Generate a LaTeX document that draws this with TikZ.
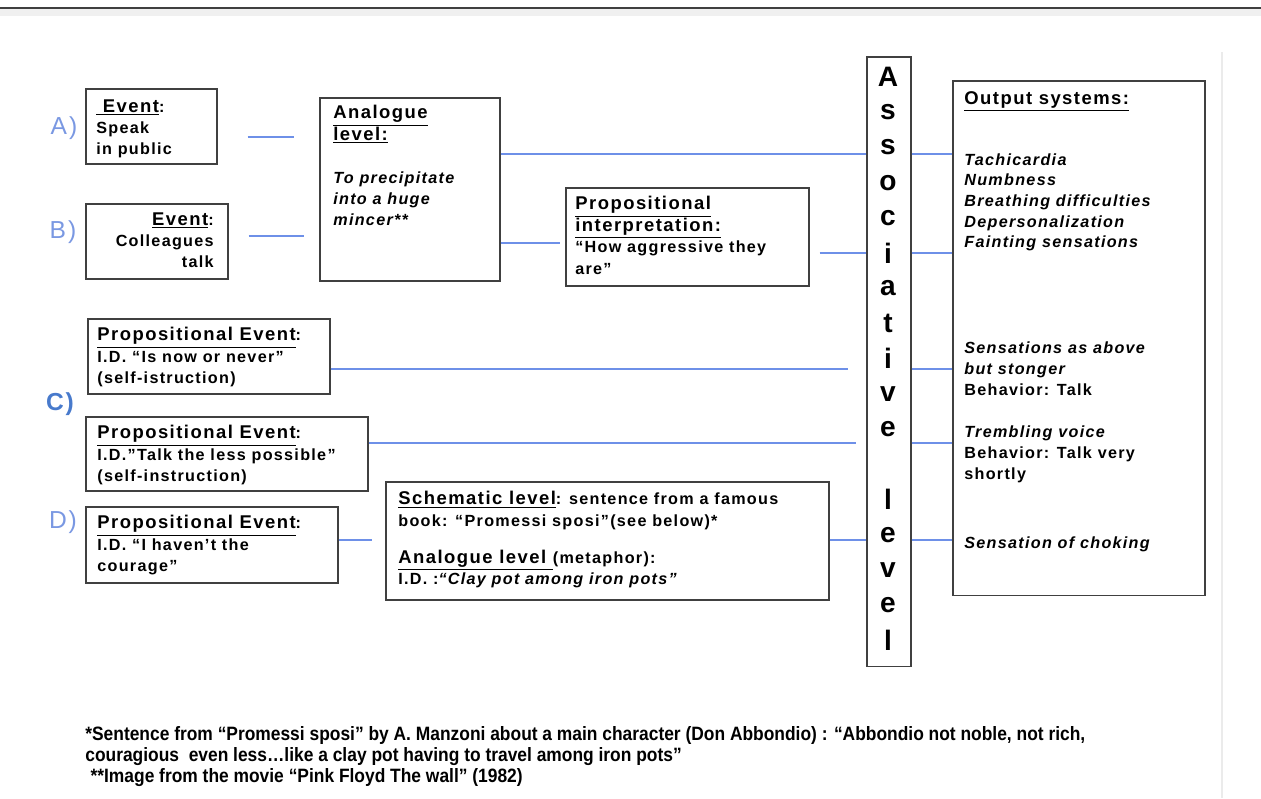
\documentclass[tikz,border=0pt]{standalone}
\usepackage{fontspec}
\setmainfont{Liberation Sans}[LetterSpace=8]
\newfontfamily\notefont{Liberation Sans}[FakeStretch=0.9]
\usepackage{xcolor}
\usetikzlibrary{calc}

\definecolor{linkblue}{RGB}{110,144,232}
\definecolor{tagblue}{RGB}{122,152,226}
\definecolor{tagblueC}{RGB}{72,122,204}

\newcommand{\ulhead}[1]{{\fontsize{10.5}{12.2}\selectfont\underline{#1}}}

\begin{document}
\begin{tikzpicture}[
        x=0.02cm, y=-0.02cm,
        box/.style={
            rectangle, draw=black!75, line width=0.9pt, fill=white,
            anchor=north west, inner sep=0pt
        },
        txt/.style={
            anchor=north west, inner sep=0pt, align=left,
            font=\fontsize{9.2}{12.2}\selectfont\bfseries
        },
        link/.style={draw=linkblue, line width=1.1pt},
        tag/.style={font=\fontsize{14}{16}\selectfont, text=tagblue, inner sep=0pt},
        letter/.style={font=\fontsize{16}{18}\selectfont\bfseries, inner sep=0pt},
        note/.style={
            anchor=north west, inner sep=0pt, align=left,
            font=\notefont\fontsize{11}{11.9}\selectfont\bfseries
        }
    ]
    \useasboundingbox (0,0) rectangle (1261,798);

    % === Page frame ===
    \fill[black!6] (0,9) rectangle (1261,16);
    \draw[black!75, line width=1.2pt] (0,8) -- (1261,8);
    \draw[black!8, line width=0.6pt] (1222,52) -- (1222,798);

    % === Row labels ===
    \node[tag] (tA) at (64,128) {A)};
    \node[tag] (tB) at (63,232) {B)};
    \node[tag, text=tagblueC, font=\fontsize{14}{16}\selectfont\bfseries] (tC) at (60,404) {C)};
    \node[tag] (tD) at (63,522) {D)};

    % === A) and B): events ===
    \node[box, minimum width=2.62cm, minimum height=1.5cm] (evA) at (85,88) {};
    \node[txt] (evAt) at (96,99) {\ulhead{ Event}:\\Speak\\in public};
    \node[box, minimum width=2.84cm, minimum height=1.5cm] (evB) at (85,203) {};
    \node[txt, anchor=north east, align=right] (evBt) at (214,212) {\ulhead{Event}:\\Colleagues\\talk};

    % === Analogue level ===
    \node[box, minimum width=3.6cm, minimum height=3.66cm] (ana) at (319,97) {};
    \node[txt] (anat) at (333,105) {\ulhead{Analogue}\\\ulhead{level:}\\[12.2pt]
        \itshape To precipitate\\\itshape into a huge\\\itshape mincer**};

    % === Propositional interpretation ===
    \node[box, minimum width=4.86cm, minimum height=1.96cm] (prop) at (565,187) {};
    \node[txt] (propt) at (575,196) {\ulhead{Propositional}\\\ulhead{interpretation:}\\
        “How aggressive they\\are"};

    % === C): propositional events ===
    \node[box, minimum width=4.84cm, minimum height=1.5cm] (evC1) at (87,318) {};
    \node[txt] (evC1t) at (97,327) {\ulhead{Propositional Event}:\\I.D. “Is now or never"\\(self-istruction)};
    \node[box, minimum width=5.64cm, minimum height=1.48cm] (evC2) at (85,416) {};
    \node[txt] (evC2t) at (97,425) {\ulhead{Propositional Event}:\\I.D."Talk the less possible"\\(self-instruction)};

    % === D): propositional event and schematic level ===
    \node[box, minimum width=5.04cm, minimum height=1.52cm] (evD) at (85,506) {};
    \node[txt] (evDt) at (97,515) {\ulhead{Propositional Event}:\\I.D. “I haven’t the\\courage"};
    \node[box, minimum width=8.86cm, minimum height=2.36cm] (sch) at (385,481) {};
    \node[txt] (scht) at (398,491) {\ulhead{Schematic level}: sentence from a famous\\
        book: “Promessi sposi"(see below)*\\[9pt]
        \ulhead{Analogue level }(metaphor):\\
        I.D. :\textit{“Clay pot among iron pots”}};

    % === Associative level ===
    \node[box, minimum width=0.88cm, minimum height=12.2cm] (assoc) at (866,56) {};
    \foreach \ch [count=\i from 0] in {A,s,s,o,c,i,a,t,i,v,e,{},l,e,v,e,l}
        \node[letter] (let\i) at (888,77+35.2*\i) {\ch};

    % === Output systems ===
    \node[box, minimum width=5.04cm, minimum height=10.3cm] (out) at (952,80) {};
    \node[txt] (outh) at (964,91) {\ulhead{Output systems:}};
    \node[txt, font=\fontsize{9.2}{11.8}\selectfont\bfseries\itshape] (outA) at (964,153)
        {Tachicardia\\Numbness\\Breathing difficulties\\Depersonalization\\Fainting sensations};
    \node[txt] (outC1) at (964,341) {\textit{Sensations as above}\\\textit{but stonger}\\Behavior: Talk};
    \node[txt] (outC2) at (964,425) {\textit{Trembling voice}\\Behavior: Talk very\\shortly};
    \node[txt] (outD) at (964,536) {\textit{Sensation of choking}};

    % === Rows of the connectors ===
    \coordinate (rA) at (0,137);
    \coordinate (rB) at (0,236);
    \coordinate (r1) at (0,154);
    \coordinate (r2) at (0,243);
    \coordinate (r3) at (0,253);
    \coordinate (rC1) at (0,369);
    \coordinate (rC2) at (0,443);
    \coordinate (rD) at (0,540);

    % === Connectors ===
    \draw[link, shorten <=0.6cm, shorten >=0.5cm] (evA.east |- rA) -- (ana.west |- rA);
    \draw[link, shorten <=0.4cm, shorten >=0.3cm] (evB.east |- rB) -- (ana.west |- rB);
    \draw[link] (ana.east |- r1) -- (assoc.west |- r1);
    \draw[link, shorten >=0.1cm] (ana.east |- r2) -- (prop.west |- r2);
    \draw[link, shorten <=0.2cm] (prop.east |- r3) -- (assoc.west |- r3);
    \draw[link, shorten >=0.36cm] (evC1.east |- rC1) -- (assoc.west |- rC1);
    \draw[link, shorten >=0.2cm] (evC2.east |- rC2) -- (assoc.west |- rC2);
    \draw[link, shorten >=0.26cm] (evD.east |- rD) -- (sch.west |- rD);
    \draw[link] (sch.east |- rD) -- (assoc.west |- rD);
    \draw[link] (assoc.east |- r1) -- (out.west |- r1);
    \draw[link] (assoc.east |- r3) -- (out.west |- r3);
    \draw[link] (assoc.east |- rC1) -- (out.west |- rC1);
    \draw[link] (assoc.east |- rC2) -- (out.west |- rC2);
    \draw[link] (assoc.east |- rD) -- (out.west |- rD);

    % === Footnotes ===
    \node[note] (fn) at (85,726) {*Sentence from “Promessi sposi” by A. Manzoni about a main character (Don Abbondio) : “Abbondio not noble, not rich,\\
        couragious\ \ even less…like a clay pot having to travel among iron pots”\\
        \hspace{3pt}**Image from the movie “Pink Floyd The wall” (1982)};

\end{tikzpicture}
\end{document}
